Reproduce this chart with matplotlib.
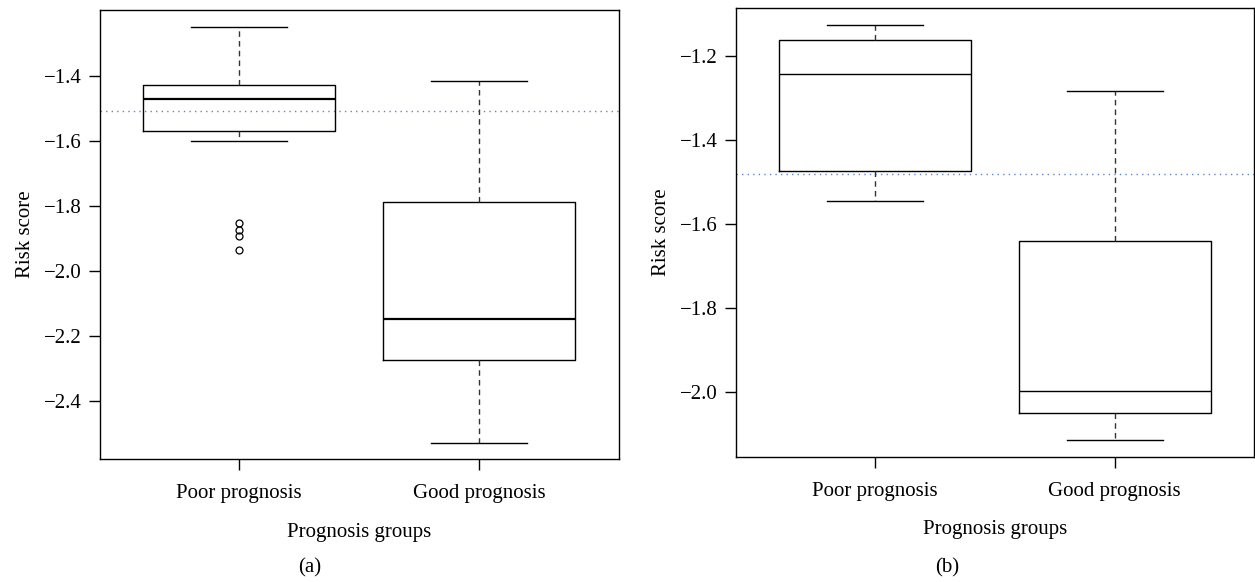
import matplotlib
matplotlib.use("Agg")
import matplotlib.pyplot as plt

plt.rcParams['font.family'] = ['Liberation Serif', 'DejaVu Serif']

groups = ['Poor prognosis', 'Good prognosis']

# panel (a): whislo, q1, med, q3, whishi, outliers
a_whislo = [-1.600, -2.527]
a_q1 = [-1.569, -2.272]
a_med = [-1.471, -2.146]
a_q3 = [-1.428, -1.786]
a_whishi = [-1.247, -1.414]
a_fliers = [[-1.850, -1.872, -1.891, -1.935], []]
a_cut = -1.505
a_ticks = [-1.4, -1.6, -1.8, -2.0, -2.2, -2.4]

# panel (b)
b_whislo = [-1.544, -2.114]
b_q1 = [-1.473, -2.050]
b_med = [-1.242, -1.998]
b_q3 = [-1.160, -1.640]
b_whishi = [-1.125, -1.282]
b_fliers = [[], []]
b_cut = -1.481
b_ticks = [-1.2, -1.4, -1.6, -1.8, -2.0]

FS = 15


def make_stats(lo, q1, med, q3, hi, fl):
    st = []
    for i in range(len(groups)):
        st.append(dict(whislo=lo[i], q1=q1[i], med=med[i], q3=q3[i],
                       whishi=hi[i], fliers=fl[i], label=groups[i]))
    return st


def draw(ax, stats, cut, ticks, medlw):
    ax.bxp(stats, positions=[1, 2], widths=0.8, capwidths=0.4,
           boxprops=dict(color='black', linewidth=1.0),
           medianprops=dict(color='black', linewidth=medlw),
           whiskerprops=dict(color='#333333', linewidth=1.0, linestyle=(0, (4, 3))),
           capprops=dict(color='black', linewidth=1.0),
           flierprops=dict(marker='o', markerfacecolor='none', markeredgecolor='black',
                           markersize=5, markeredgewidth=0.9))
    ax.axhline(cut, color='#5f85cf', linestyle=(0, (1, 3)), linewidth=1.0, zorder=0)
    allv = []
    for s in stats:
        allv += [s['whislo'], s['whishi']] + list(s['fliers'])
    lo, hi = min(allv), max(allv)
    pad = (hi - lo) * 0.04
    ax.set_ylim(lo - pad, hi + pad)
    ax.set_xlim(0.42, 2.58)
    ax.set_yticks(ticks)
    ax.set_yticklabels([('%.1f' % t).replace('-', '\u2212') for t in ticks])
    ax.set_xticks([1, 2])
    ax.set_xticklabels(groups)
    ax.tick_params(direction='out', length=8, width=1.0, labelsize=FS, pad=5,
                   colors='black')
    ax.tick_params(axis='x', pad=10)
    for sp in ax.spines.values():
        sp.set_linewidth(1.0)
    ax.set_xlabel('Prognosis groups', fontsize=FS, labelpad=14)
    ax.set_ylabel('Risk score', fontsize=FS, labelpad=6)


fig = plt.figure(figsize=(12.55, 5.82), dpi=100)
ax1 = fig.add_axes([0.0793, 0.2108, 0.4137, 0.7720])
ax2 = fig.add_axes([0.5861, 0.2153, 0.4130, 0.7705])

draw(ax1, make_stats(a_whislo, a_q1, a_med, a_q3, a_whishi, a_fliers), a_cut, a_ticks, 1.6)
draw(ax2, make_stats(b_whislo, b_q1, b_med, b_q3, b_whishi, b_fliers), b_cut, b_ticks, 1.0)

fig.text(310 / 1255, 1 - 568 / 582, '(a)', ha='center', va='center', fontsize=FS)
fig.text(947 / 1255, 1 - 568 / 582, '(b)', ha='center', va='center', fontsize=FS)

fig.savefig('out.png', dpi=100)
